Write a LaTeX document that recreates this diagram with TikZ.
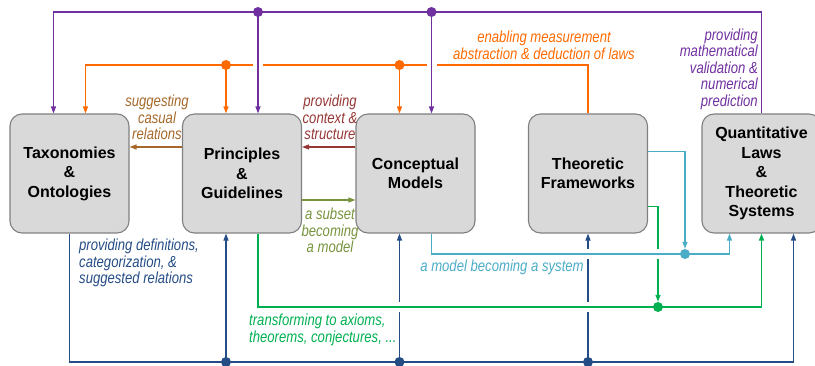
\documentclass[tikz,border=0pt]{standalone}
\usepackage{fontspec}
\usepackage{tikz}
\usetikzlibrary{arrows.meta}
\newfontfamily\boxfont{Liberation Sans}
\newfontfamily\lblfont[FakeStretch=0.82]{Liberation Sans}

\definecolor{boxfill}{HTML}{D9D9D9}
\definecolor{boxline}{HTML}{808080}
\definecolor{cpurple}{HTML}{7030A0}
\definecolor{corange}{HTML}{FF6A00}
\definecolor{cbrown}{HTML}{A5682A}
\definecolor{cdred}{HTML}{953735}
\definecolor{colive}{HTML}{77933C}
\definecolor{cnavy}{HTML}{244C85}
\definecolor{cgreen}{HTML}{00B050}
\definecolor{clblue}{HTML}{4BACC6}

\tikzset{
  box/.style={draw=boxline, fill=boxfill, line width=1.1pt, rounded corners=12pt,
    minimum width=119pt, minimum height=119pt, inner sep=0pt, align=center,
    font=\boxfont\bfseries\fontsize{16}{19.5}\selectfont},
  lbl/.style={inner sep=0pt, font=\lblfont\itshape\fontsize{16}{16.5}\selectfont},
  conn/.style={line width=1.3pt},
  arr/.style={-{Triangle[length=7pt,width=5pt]}},
  dot/.style={circle, inner sep=0pt, minimum size=10pt},
  hop/.style={preaction={draw=white, line width=10pt}},
}

\begin{document}
\begin{tikzpicture}[x=1pt, y=-1pt]
  \useasboundingbox (0,0) rectangle (815,366);

  % boxes
  \node[box] (TO) at (69.5,173.5) {Taxonomies\\\&\\Ontologies};
  \node[box] (PG) at (242,173.5) {Principles\\\&\\Guidelines};
  \node[box] (CM) at (415.5,173.5) {Conceptual\\Models};
  \node[box] (TF) at (588,173.5) {Theoretic\\Frameworks};
  \node[box] (QL) at (761.5,173.5) {Quantitative\\Laws\\\&\\Theoretic\\Systems};

  % junctions
  \node[dot, fill=cpurple] (P1) at (258,12) {};
  \node[dot, fill=cpurple] (P2) at (431.5,12) {};
  \node[dot, fill=corange] (O1) at (226,65) {};
  \node[dot, fill=corange] (O2) at (399.5,65) {};
  \node[dot, fill=clblue] (B1) at (685,254) {};
  \node[dot, fill=cgreen] (G1) at (658,307) {};
  \node[dot, fill=cnavy] (N1) at (226,362) {};
  \node[dot, fill=cnavy] (N2) at (399.5,362) {};
  \node[dot, fill=cnavy] (N3) at (588,362) {};

  % orange
  \draw[conn, corange, arr] (TF.north) |- (O2.center) -- (O1.center) -| ([xshift=16pt]TO.north);
  \draw[conn, corange, arr] (O1.center) -- ([xshift=-16pt]PG.north);
  \draw[conn, corange, arr] (O2.center) -- ([xshift=-16pt]CM.north);

  % purple
  \draw[conn, cpurple, arr] (QL.north) |- (P2.center) -- (P1.center) -| ([xshift=-16pt]TO.north);
  \draw[conn, cpurple, arr] (P1.center) -- ([xshift=16pt]PG.north);
  \draw[conn, cpurple, arr] (P2.center) -- ([xshift=16pt]CM.north);
  \draw[conn, cpurple, hop] (P1 |- O1) ++(0,-6) -- ++(0,12);
  \draw[conn, cpurple, hop] (P2 |- O1) ++(0,-6) -- ++(0,12);

  % side arrows
  \draw[conn, cbrown, arr] ([yshift=26.5pt]PG.west) -- ([yshift=26.5pt]TO.east);
  \draw[conn, cdred, arr] ([yshift=26.5pt]CM.west) -- ([yshift=26.5pt]PG.east);
  \draw[conn, colive, arr] ([yshift=-26.5pt]PG.east) -- ([yshift=-26.5pt]CM.west);

  % navy
  \draw[conn, cnavy, arr] (TO.south) |- (N3.center) -| ([xshift=32pt]QL.south);
  \draw[conn, cnavy, arr] (N1.center) -- ([xshift=-16pt]PG.south);
  \draw[conn, cnavy, arr] (N2.center) -- ([xshift=-16pt]CM.south);
  \draw[conn, cnavy, arr] (N3.center) -- (TF.south);

  % green
  \draw[conn, cgreen, arr] ([xshift=16pt]PG.south) |- (G1.center) -| (QL.south);
  \draw[conn, cgreen, arr] ([yshift=-33pt]TF.east) -| (G1);
  \draw[conn, cgreen, hop] (N2 |- G1) ++(-7,0) -- ++(14,0);
  \draw[conn, cgreen, hop] (N3 |- G1) ++(-7,0) -- ++(14,0);

  % light blue
  \draw[conn, clblue, arr] ([xshift=16pt]CM.south) |- (B1.center) -| ([xshift=-32pt]QL.south);
  \draw[conn, clblue, arr] ([yshift=22pt]TF.east) -| (B1);
  \draw[conn, clblue, hop] (N3 |- B1) ++(-7,0) -- ++(14,0);
  \draw[conn, clblue, hop] (G1 |- B1) ++(-7,0) -- ++(14,0);

  % labels
  \node[lbl, text=corange, align=center] (LM) at (544,45.5) {enabling measurement\\abstraction \& deduction of laws};
  \node[lbl, text=cpurple, align=right, anchor=east] (LV) at (758,69) {providing\\mathematical\\validation \&\\numerical\\prediction};
  \node[lbl, text=cbrown, align=center] (LC) at (157,117.5) {suggesting\\casual\\relations};
  \node[lbl, text=cdred, align=center] (LS) at (330,117.5) {providing\\context \&\\structure};
  \node[lbl, text=colive, align=center] (LO) at (330,230.5) {a subset\\becoming\\a model};
  \node[lbl, text=cnavy, align=left, anchor=west] (LD) at (79,263) {providing definitions,\\categorization, \&\\suggested relations};
  \node[lbl, text=clblue] (LB) at (502,267) {a model becoming a system};
  \node[lbl, text=cgreen, align=left, anchor=west] (LT) at (249,330) {transforming to axioms,\\theorems, conjectures, ...};

\end{tikzpicture}
\end{document}
